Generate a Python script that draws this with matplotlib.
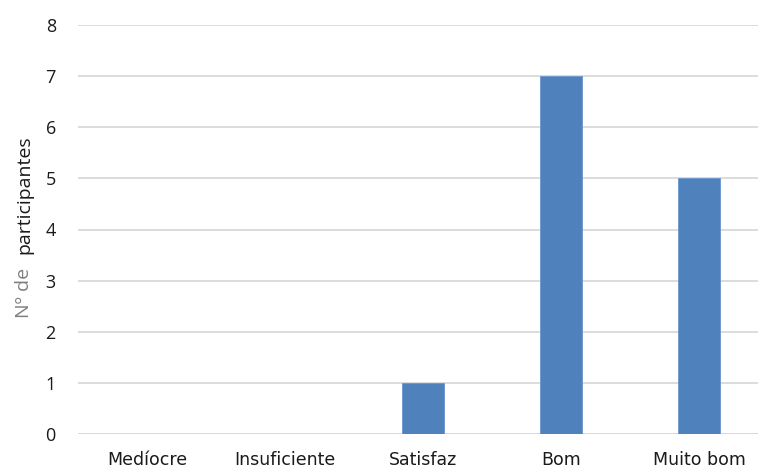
import matplotlib
matplotlib.use("Agg")
import matplotlib.pyplot as plt

categories = ["Medíocre", "Insuficiente", "Satisfaz", "Bom", "Muito bom"]
participants = [0, 0, 1, 7, 5]
y_ticks = [0, 1, 2, 3, 4, 5, 6, 7, 8]

W, H = 758, 470
fig = plt.figure(figsize=(W / 100, H / 100), dpi=100)
left, right, bottom, top = 78, 768, 434, 25
ax = fig.add_axes([left / W, (H - bottom) / H, (right - left) / W, (bottom - top) / H])

x = range(len(categories))
ax.bar(x, participants, width=0.31, color="#4F81BD", edgecolor="#6A96CC", linewidth=0.6, zorder=3)

ax.set_xlim(-0.5, len(categories) - 0.5)
ax.set_ylim(0, 8)
ax.set_yticks(y_ticks)
ax.set_yticklabels([str(t) for t in y_ticks], fontsize=13, family="Open Sans", color="#1a1a1a")
ax.set_xticks(list(x))
ax.set_xticklabels(categories, fontsize=12.5, family="Liberation Sans Narrow", color="#1a1a1a")
ax.tick_params(axis="both", length=0)
ax.tick_params(axis="y", pad=16)
ax.tick_params(axis="x", pad=12)

ax.yaxis.grid(True, color="#D9D9D9", linewidth=1.3, zorder=0)
for s in ax.spines.values():
    s.set_visible(False)
ax.axhline(0, color="#D9D9D9", linewidth=1.3, zorder=1)

# Axis title in two tones, sharing one baseline
fig.text(29 / W, (H - 293) / H, "Nº de", rotation=90, ha="center", va="baseline",
         rotation_mode="anchor", fontsize=14, family="Open Sans", color="#7F7F7F")
fig.text(29 / W, (H - 195) / H, "participantes", rotation=90, ha="center", va="baseline",
         rotation_mode="anchor", fontsize=14, family="Open Sans", color="#1a1a1a")

fig.savefig("out.png", dpi=100)
